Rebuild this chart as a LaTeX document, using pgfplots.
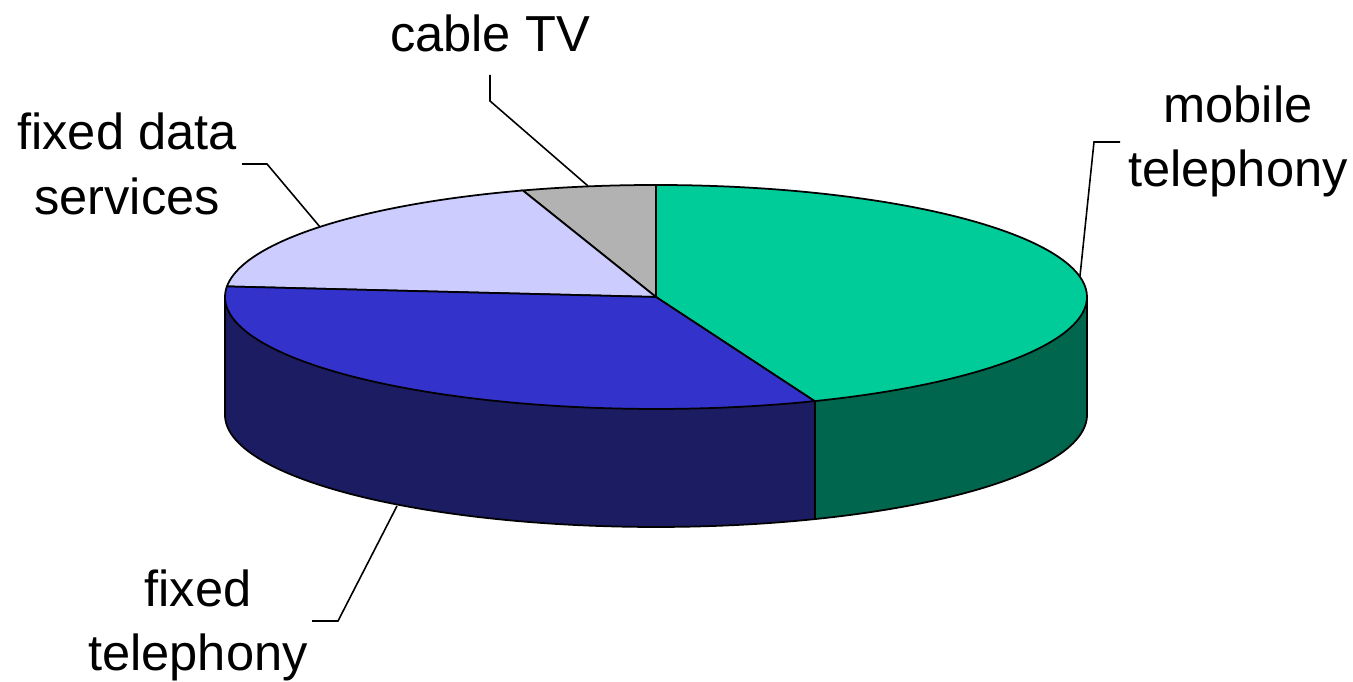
\documentclass[border=0pt]{standalone}
\usepackage{pgfplots}
\pgfplotsset{compat=1.18}
\usepackage{pgfplotstable}
\usepgfplotslibrary{fillbetween}
\usepackage{fontspec}
\setmainfont{Liberation Sans}

\definecolor{mobTop}{RGB}{0,204,153}
\definecolor{mobSide}{RGB}{0,102,77}
\definecolor{telTop}{RGB}{51,51,204}
\definecolor{telSide}{RGB}{28,28,99}
\definecolor{datTop}{RGB}{204,204,255}
\definecolor{cabTop}{RGB}{178,178,178}

% shares in percent, counter-clockwise from the front
\pgfplotstableread{
label value
mobile 44.0
cable 5.0
data 18.5
fixedtel 32.5
}\piedata

\begin{document}
\begin{tikzpicture}[lbl/.style={font=\fontsize{14.4}{18}\selectfont,anchor=base}]
\pgfplotstablegetelem{0}{value}\of\piedata \let\vMob\pgfplotsretval
\pgfplotstablegetelem{1}{value}\of\piedata \let\vCab\pgfplotsretval
\pgfplotstablegetelem{2}{value}\of\piedata \let\vDat\pgfplotsretval
\pgfplotstablegetelem{3}{value}\of\piedata \let\vTel\pgfplotsretval
\pgfmathsetmacro\aMob{90-3.6*\vMob}
\pgfmathsetmacro\aDat{90+3.6*\vCab}
\pgfmathsetmacro\aTel{\aDat+3.6*\vDat}
\pgfmathsetmacro\aEnd{\aTel+3.6*\vTel}
\pgfmathsetmacro\xE{656+431*cos(\aEnd)}
\pgfmathsetmacro\yE{297-112*sin(\aEnd)}
\pgfmathsetmacro\yEb{\yE+118}
\begin{axis}[width=13.53cm,height=6.82cm,scale only axis,
  xmin=0,xmax=1353,ymin=0,ymax=682,y dir=reverse,
  hide axis,clip=false]
% side walls
\addplot[draw=none,name path=tT,domain=180:\aEnd,samples=80,variable=\t]
  ({656+431*cos(\t)},{297-112*sin(\t)});
\addplot[draw=none,name path=tB,domain=180:\aEnd,samples=80,variable=\t]
  ({656+431*cos(\t)},{415-112*sin(\t)});
\addplot[telSide] fill between[of=tT and tB];
\addplot[draw=none,name path=mT,domain=\aEnd:360,samples=60,variable=\t]
  ({656+431*cos(\t)},{297-112*sin(\t)});
\addplot[draw=none,name path=mB,domain=\aEnd:360,samples=60,variable=\t]
  ({656+431*cos(\t)},{415-112*sin(\t)});
\addplot[mobSide] fill between[of=mT and mB];
\addplot[black,line width=0.5pt,domain=180:360,samples=150,variable=\t]
  ({656+431*cos(\t)},{415-112*sin(\t)});
\addplot[black,line width=0.5pt] coordinates {(225,297) (225,415)};
\addplot[black,line width=0.5pt] coordinates {(1087,297) (1087,415)};
\addplot[black,line width=0.5pt] coordinates {(\xE,\yE) (\xE,\yEb)};
% top slices
\addplot[fill=mobTop,draw=black,line width=0.5pt,domain=\aMob:90,samples=100,variable=\t]
  ({656+431*cos(\t)},{297-112*sin(\t)}) -- (axis cs:656,297) -- cycle;
\addplot[fill=cabTop,draw=black,line width=0.5pt,domain=90:\aDat,samples=20,variable=\t]
  ({656+431*cos(\t)},{297-112*sin(\t)}) -- (axis cs:656,297) -- cycle;
\addplot[fill=datTop,draw=black,line width=0.5pt,domain=\aDat:\aTel,samples=50,variable=\t]
  ({656+431*cos(\t)},{297-112*sin(\t)}) -- (axis cs:656,297) -- cycle;
\addplot[fill=telTop,draw=black,line width=0.5pt,domain=\aTel:\aEnd,samples=80,variable=\t]
  ({656+431*cos(\t)},{297-112*sin(\t)}) -- (axis cs:656,297) -- cycle;
% leader lines
\addplot[black,line width=0.45pt] coordinates {(490,75) (490,101) (588,186)};
\addplot[black,line width=0.45pt] coordinates {(1120,142) (1094,142) (1080,276)};
\addplot[black,line width=0.45pt] coordinates {(242,164) (267,164) (320,227)};
\addplot[black,line width=0.45pt] coordinates {(312,621) (338,621) (397,506)};
% labels
\node[lbl] at (axis cs:490,52) {cable TV};
\node[lbl] at (axis cs:1238,123) {mobile};
\node[lbl] at (axis cs:1238,187) {telephony};
\node[lbl] at (axis cs:127,150) {fixed data};
\node[lbl] at (axis cs:127,215) {services};
\node[lbl] at (axis cs:198,607) {fixed};
\node[lbl] at (axis cs:198,671) {telephony};
\end{axis}
\pgfresetboundingbox
\useasboundingbox (current axis.south west) rectangle (current axis.north east);
\end{tikzpicture}
\end{document}
